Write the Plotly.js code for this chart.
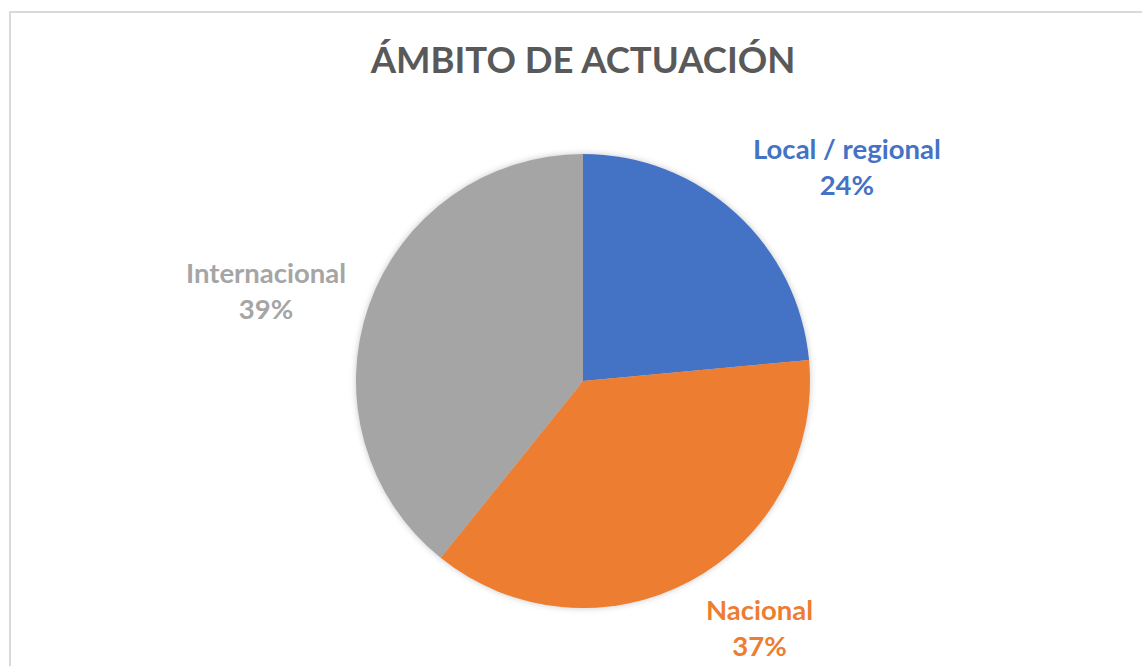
<!DOCTYPE html>
<html>
<head>
<meta charset="utf-8">
<script src="https://cdn.plot.ly/plotly-3.0.1.min.js"></script>
<style>
  html, body { margin: 0; padding: 0; background: #ffffff; }
  #chart { width: 1142px; height: 666px; }
  .pielayer { filter: drop-shadow(0px 0px 3px rgba(0,0,0,0.22)); }
</style>
</head>
<body>
<div id="chart"></div>
<script>
const categories = ["Local / regional", "Nacional", "Internacional"];
const counts = [12, 19, 20];
const sliceColors = ["#4472C4", "#ED7D31", "#A5A5A5"];
const chartTitle = "ÁMBITO DE ACTUACIÓN";

const W = 1142, H = 666;
const cx = 583, cy = 381, r = 227;

const FONT = "Lato, 'Open Sans', sans-serif";
const total = counts.reduce((a, b) => a + b, 0);

const trace = {
  type: "pie",
  labels: categories,
  values: counts,
  sort: false,
  direction: "clockwise",
  rotation: 0,
  marker: { colors: sliceColors, line: { color: "#ffffff", width: 0 } },
  textinfo: "none",
  hoverinfo: "label+percent",
  showlegend: false,
  domain: {
    x: [(cx - r) / W, (cx + r) / W],
    y: [(H - cy - r) / H, (H - cy + r) / H]
  }
};

// label positions (paper px)
const labelPos = [[847, 167], [759, 627], [266, 290]];
const annotations = categories.map((c, i) => ({
  xref: "paper", yref: "paper",
  x: labelPos[i][0] / W, y: 1 - labelPos[i][1] / H,
  xanchor: "center", yanchor: "middle",
  showarrow: false,
  text: "<b>" + c + "<br>" + Math.round(counts[i] / total * 100) + "%</b>",
  font: { family: FONT, size: 27.5, color: sliceColors[i] },
  align: "center"
}));

const layout = {
  width: W, height: H,
  margin: { l: 0, r: 0, t: 0, b: 0 },
  paper_bgcolor: "#ffffff",
  title: {
    text: "<b>" + chartTitle + "</b>",
    font: { family: FONT, size: 36.5, color: "#595959" },
    x: 583 / W, xanchor: "center",
    y: 1 - 60 / H, yanchor: "middle"
  },
  annotations: annotations,
  shapes: [{
    type: "rect", xref: "paper", yref: "paper",
    x0: 10 / W, x1: 1.01, y0: -0.01, y1: 1 - 12 / H,
    line: { color: "#d9d9d9", width: 2 }, fillcolor: "rgba(0,0,0,0)"
  }]
};

Plotly.newPlot("chart", [trace], layout, { displayModeBar: false });
</script>
</body>
</html>
